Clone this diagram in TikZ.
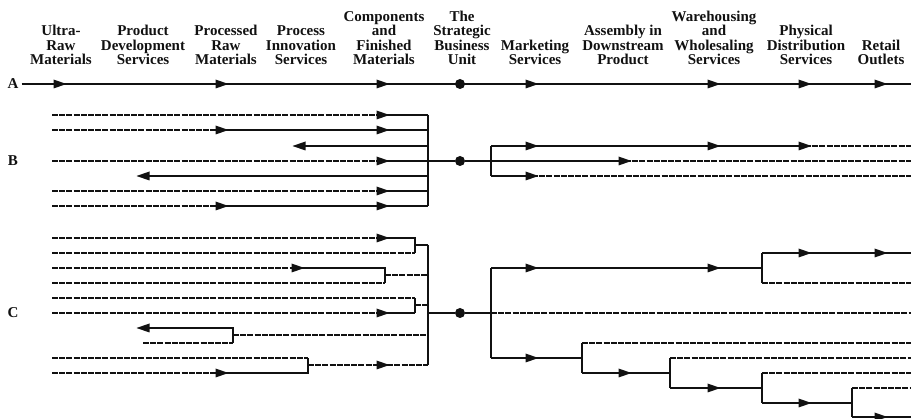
\documentclass[tikz,border=0pt]{standalone}
\usepackage{fontspec}
\setmainfont{Liberation Serif}
\usetikzlibrary{positioning}
\definecolor{ink}{HTML}{111111}
\tikzset{
  head/.style={font=\bfseries\fontsize{15}{14.5}\selectfont, text=ink, align=center,
    anchor=south, inner sep=0pt, text depth=0pt},
  rowlbl/.style={font=\bfseries\fontsize{15}{15}\selectfont, text=ink, inner sep=0pt},
  flow/.style={draw=ink, line width=1.9pt},
  link/.style={draw=ink, line width=1.1pt, dash pattern=on 6pt off 1.2pt},
  sbu/.style={circle, fill=ink, minimum size=10pt, inner sep=0pt},
}
\newcommand{\fwd}[2]{\fill[ink] (#1+6.5,#2) -- (#1-6.5,#2-4.5) -- (#1-6.5,#2+4.5) -- cycle;}
\newcommand{\bwd}[2]{\fill[ink] (#1-6.5,#2) -- (#1+6.5,#2-4.5) -- (#1+6.5,#2+4.5) -- cycle;}

\begin{document}
\begin{tikzpicture}[x=1pt, y=-1pt]
\useasboundingbox (0,0) rectangle (911,419);

% headers
\node[head] (hUltra) at (61,65) {Ultra-\\Raw\\Materials};
\node[head] (hProdDev) at (143,65) {Product\\Development\\Services};
\node[head] (hProcRaw) at (226,65) {Processed\\Raw\\Materials};
\node[head] (hProcInn) at (301,65) {Process\\Innovation\\Services};
\node[head] (hComp) at (384,65) {Components\\and\\Finished\\Materials};
\node[head] (hSBU) at (462,65) {The\\Strategic\\Business\\Unit};
\node[head] (hMkt) at (535,65) {Marketing\\Services};
\node[head] (hAssy) at (623,65) {Assembly in\\Downstream\\Product};
\node[head] (hWare) at (714,65) {Warehousing\\and\\Wholesaling\\Services};
\node[head] (hPhys) at (806,65) {Physical\\Distribution\\Services};
\node[head] (hRetail) at (881,65) {Retail\\Outlets};

% A
\node[rowlbl] (lblA) at (13,84) {A};
\node[sbu] (sbuA) at (460,84) {};
\draw[flow] (lblA.east) ++(3,0) -- (911,84);
\fwd{60}{84} \fwd{222}{84} \fwd{383}{84}
\fwd{532}{84} \fwd{714}{84} \fwd{805}{84} \fwd{881}{84}

% B
\node[rowlbl] (lblB) at (13,161) {B};
\node[sbu] (sbuB) at (460,161) {};
\draw[link] (52,115) -- (383,115);
\draw[flow] (383,115) -- (428,115);
\draw[link] (52,130) -- (222,130);
\draw[flow] (222,130) -- (428,130);
\draw[flow] (298,146) -- (428,146);
\draw[link] (52,161) -- (383,161);
\draw[flow] (383,161) -- (sbuB);
\draw[flow] (140,176) -- (428,176);
\draw[link] (52,191) -- (383,191);
\draw[flow] (383,191) -- (428,191);
\draw[link] (52,206) -- (222,206);
\draw[flow] (222,206) -- (428,206);
\draw[flow] (428,115) -- (428,206);
\fwd{383}{115} \fwd{222}{130} \fwd{383}{130} \bwd{299}{146} \fwd{383}{161}
\bwd{143}{176} \fwd{383}{191} \fwd{222}{206} \fwd{383}{206}
\draw[flow] (sbuB) -- (491,161);
\draw[flow] (491,146) -- (491,176);
\draw[flow] (491,146) -- (805,146);
\draw[link] (805,146) -- (911,146);
\draw[flow] (491,161) -- (625,161);
\draw[link] (625,161) -- (911,161);
\draw[flow] (491,176) -- (532,176);
\draw[link] (532,176) -- (911,176);
\fwd{532}{146} \fwd{714}{146} \fwd{805}{146} \fwd{625}{161} \fwd{532}{176}

% C
\node[rowlbl] (lblC) at (13,313) {C};
\node[sbu] (sbuC) at (460,313) {};
\draw[link] (52,238) -- (383,238);
\draw[flow] (383,238) -- (415,238) -- (415,253);
\draw[link] (52,253) -- (415,253);
\draw[flow] (415,245) -- (428,245);
\draw[link] (52,268) -- (298,268);
\draw[flow] (298,268) -- (385,268) -- (385,283);
\draw[link] (52,283) -- (385,283);
\draw[link] (385,275) -- (428,275);
\draw[link] (52,298) -- (415,298);
\draw[flow] (415,298) -- (415,313);
\draw[link] (52,313) -- (383,313);
\draw[flow] (383,313) -- (415,313);
\draw[link] (415,305) -- (428,305);
\draw[flow] (140,328) -- (233,328) -- (233,343);
\draw[link] (143,343) -- (233,343);
\draw[link] (233,335) -- (428,335);
\draw[link] (52,358) -- (308,358);
\draw[link] (52,373) -- (222,373);
\draw[flow] (222,373) -- (308,373) -- (308,358);
\draw[link] (308,365) -- (428,365);
\draw[flow] (428,245) -- (428,365);
\draw[flow] (428,313) -- (sbuC);
\fwd{383}{238} \fwd{298}{268} \fwd{383}{313} \bwd{143}{328}
\fwd{222}{373} \fwd{383}{365}
\draw[flow] (sbuC) -- (491,313);
\draw[flow] (491,268) -- (491,358);
\draw[flow] (491,268) -- (762,268);
\draw[flow] (762,253) -- (762,283);
\draw[flow] (762,253) -- (911,253);
\draw[link] (762,283) -- (911,283);
\draw[link] (491,313) -- (911,313);
\draw[flow] (491,358) -- (582,358);
\draw[flow] (582,343) -- (582,373);
\draw[link] (582,343) -- (911,343);
\draw[flow] (582,373) -- (670,373);
\draw[flow] (670,358) -- (670,388);
\draw[link] (670,358) -- (911,358);
\draw[flow] (670,388) -- (762,388);
\draw[flow] (762,373) -- (762,403);
\draw[link] (762,373) -- (911,373);
\draw[flow] (762,403) -- (852,403);
\draw[flow] (852,388) -- (852,417);
\draw[link] (852,388) -- (911,388);
\draw[flow] (852,417) -- (911,417);
\fwd{532}{268} \fwd{714}{268} \fwd{805}{253} \fwd{881}{253}
\fwd{532}{358} \fwd{625}{373} \fwd{714}{388} \fwd{805}{403} \fwd{881}{417}

\end{tikzpicture}
\end{document}
